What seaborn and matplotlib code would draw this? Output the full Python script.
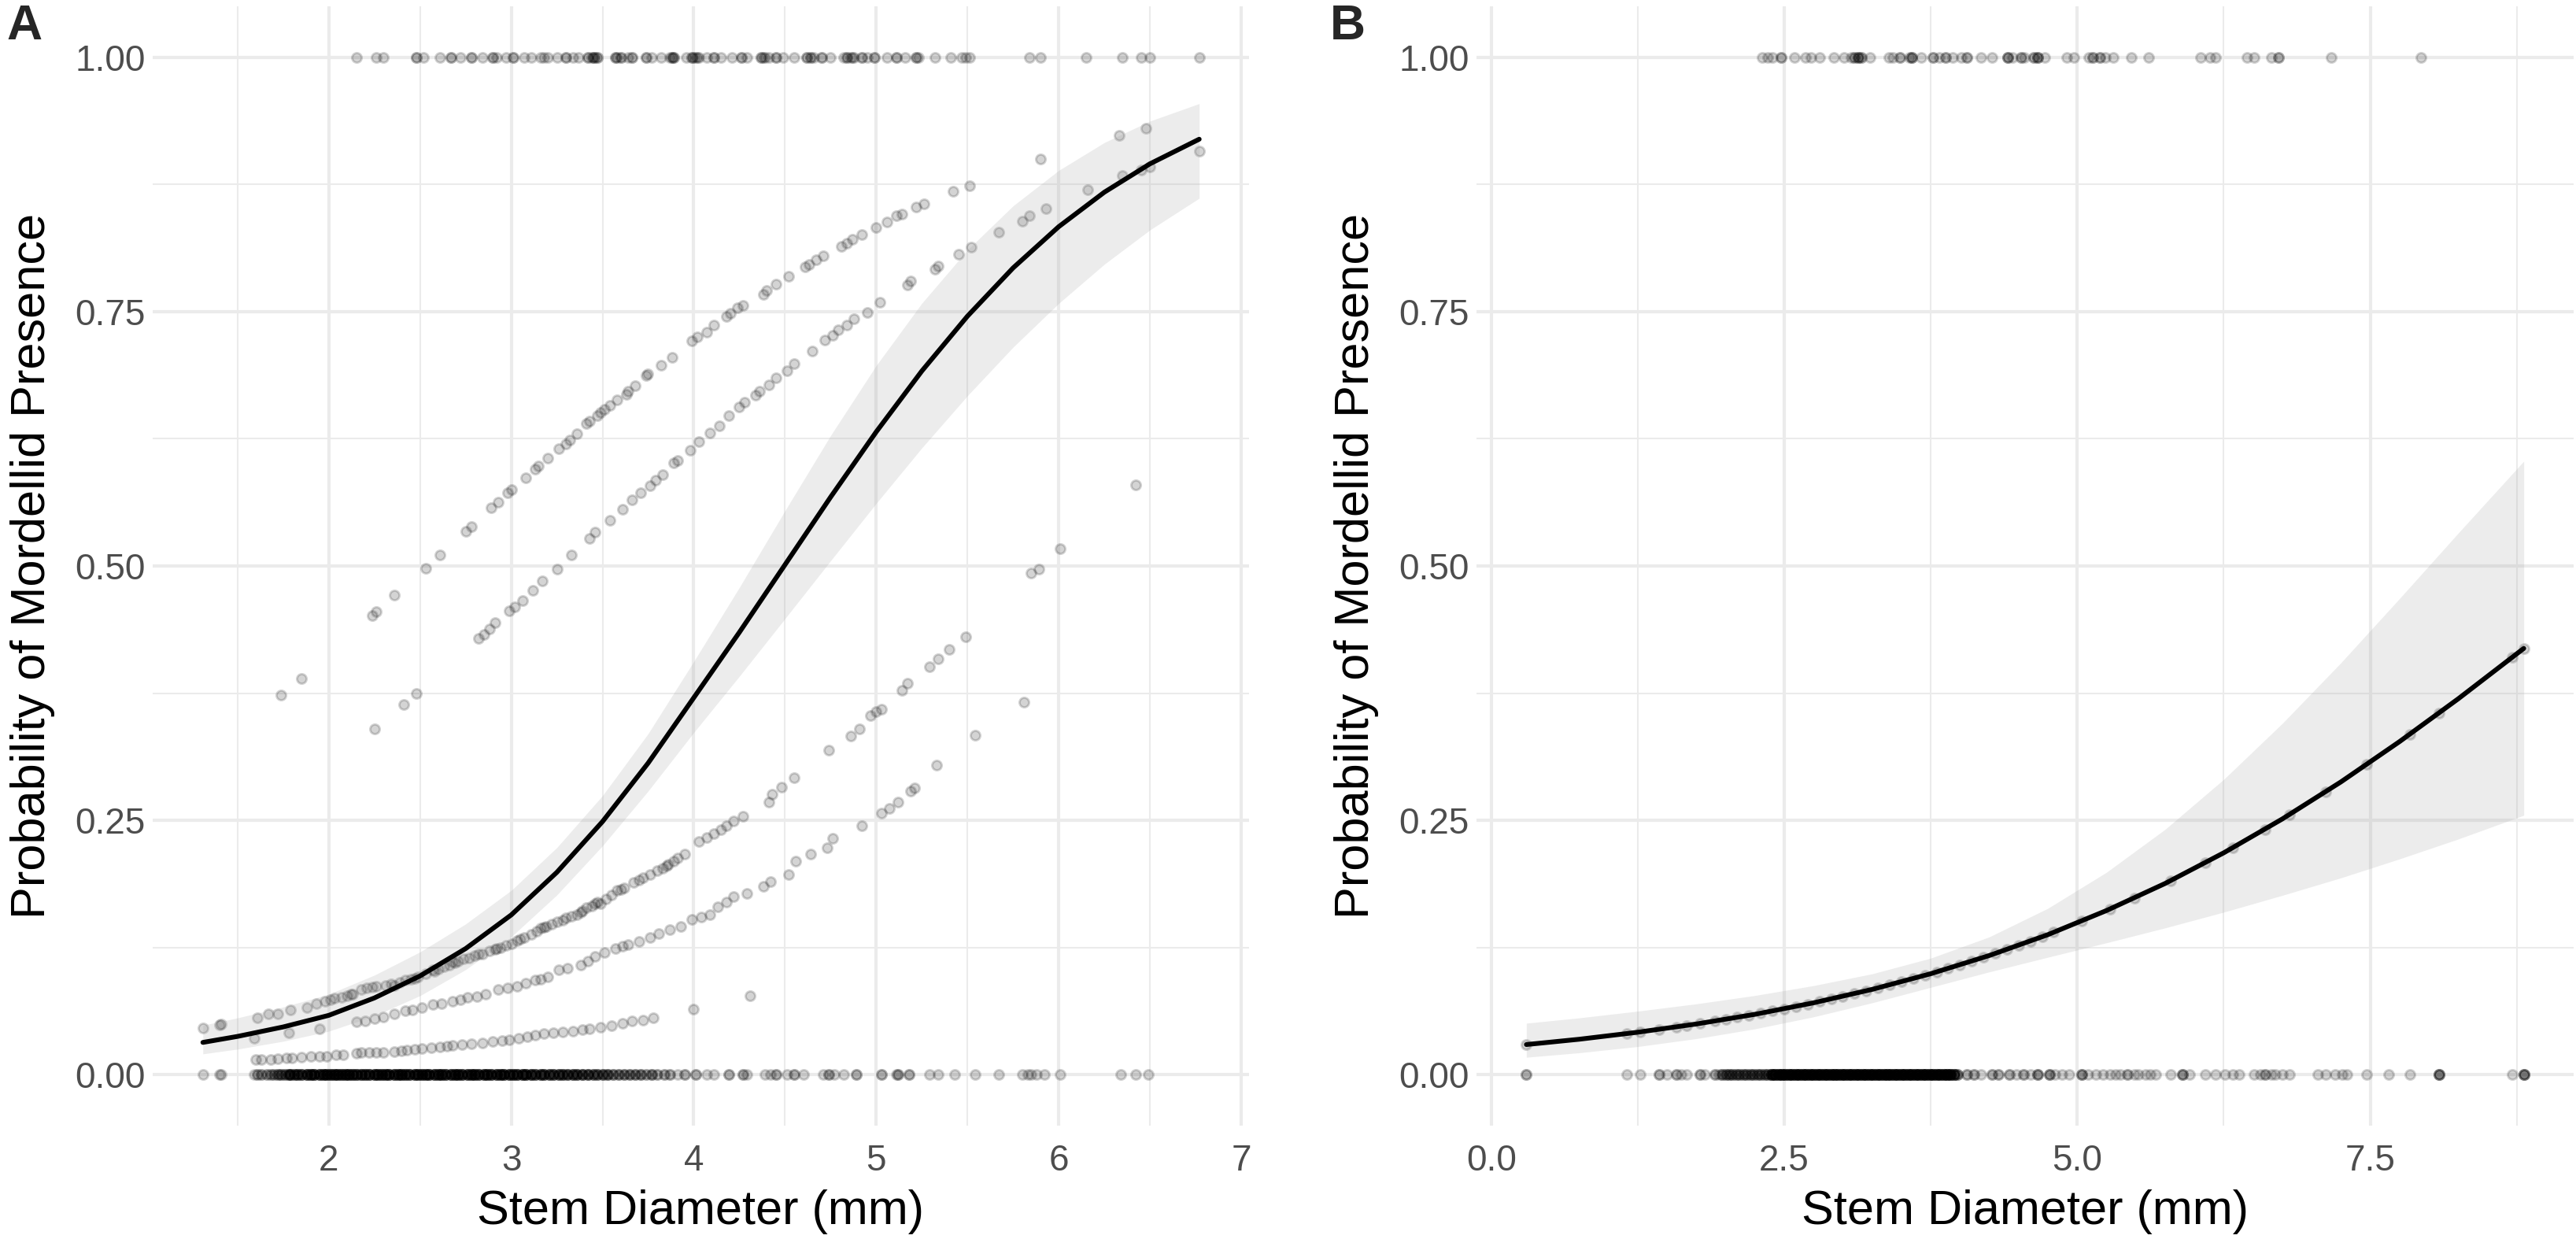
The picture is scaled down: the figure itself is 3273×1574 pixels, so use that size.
import numpy as np
import pandas as pd
import matplotlib
matplotlib.use("Agg")
import matplotlib.pyplot as plt
from matplotlib.ticker import FixedLocator
import seaborn as sns

# ---------------- Panel A data ----------------
A_curve_x = [1.31, 1.5, 1.75, 2.0, 2.25, 2.5, 2.75, 3.0, 3.25, 3.5, 3.75, 4.0, 4.25, 4.5,
             4.75, 5.0, 5.25, 5.5, 5.75, 6.0, 6.25, 6.5, 6.77]
A_curve_fit = [0.0318, 0.0377, 0.0470, 0.0584, 0.0755, 0.0971, 0.1240, 0.1571, 0.1990, 0.2488,
               0.3063, 0.3705, 0.4348, 0.5012, 0.5677, 0.6318, 0.6916, 0.7455, 0.7929, 0.8334,
               0.8673, 0.8952, 0.9194]
A_curve_lo = [0.0205, 0.0252, 0.0329, 0.0428, 0.0579, 0.0777, 0.1033, 0.1356, 0.1767, 0.2250,
              0.2788, 0.3363, 0.3916, 0.4482, 0.5051, 0.5615, 0.6160, 0.6673, 0.7150, 0.7580,
              0.7965, 0.8302, 0.8614]
A_curve_hi = [0.0487, 0.0559, 0.0666, 0.0792, 0.0979, 0.1207, 0.1482, 0.1812, 0.2233, 0.2743,
              0.3352, 0.4061, 0.4789, 0.5543, 0.6282, 0.6970, 0.7582, 0.8106, 0.8539, 0.8887,
              0.9161, 0.9372, 0.9544]

# fitted values per group (panel A)
A_u0_x = [5.90, 6.33, 6.48]
A_u0_y = [0.900, 0.923, 0.930]
A_u1_x = [1.74, 1.85, 2.24, 2.26, 2.36, 2.53, 2.61, 2.75, 2.78, 2.89, 2.93, 2.98, 3.00, 3.08, 3.13,
          3.15, 3.20, 3.26, 3.30, 3.32, 3.36, 3.41, 3.43, 3.47, 3.49, 3.51, 3.54, 3.58, 3.63, 3.64,
          3.68, 3.74, 3.75, 3.82, 3.88, 3.99, 4.02, 4.07, 4.11, 4.18, 4.20, 4.24, 4.27, 4.38, 4.40,
          4.45, 4.52, 4.61, 4.63, 4.67, 4.71, 4.81, 4.84, 4.87, 4.92, 5.00, 5.06, 5.11, 5.14, 5.22,
          5.26, 5.42, 5.51]
A_u1_y = [0.373, 0.389, 0.451, 0.455, 0.471, 0.498, 0.511, 0.534, 0.539, 0.557, 0.563, 0.572, 0.575,
          0.587, 0.595, 0.598, 0.606, 0.615, 0.620, 0.624, 0.630, 0.640, 0.642, 0.648, 0.651, 0.654,
          0.658, 0.663, 0.669, 0.672, 0.677, 0.687, 0.689, 0.697, 0.705, 0.721, 0.725, 0.730, 0.737,
          0.745, 0.748, 0.754, 0.756, 0.767, 0.771, 0.777, 0.785, 0.794, 0.796, 0.801, 0.805, 0.814,
          0.817, 0.821, 0.826, 0.833, 0.838, 0.844, 0.846, 0.853, 0.856, 0.868, 0.874]
A_u2_x = [2.25, 2.41, 2.48, 2.82, 2.85, 2.88, 2.91, 2.99, 3.02, 3.06, 3.12, 3.17, 3.25, 3.33, 3.43,
          3.46, 3.54, 3.61, 3.66, 3.71, 3.76, 3.79, 3.83, 3.89, 3.91, 3.98, 4.03, 4.09, 4.14, 4.19,
          4.25, 4.28, 4.34, 4.36, 4.41, 4.45, 4.51, 4.55, 4.65, 4.72, 4.76, 4.79, 4.84, 4.88, 4.95,
          5.02, 5.17, 5.19, 5.32, 5.34, 5.45, 5.52, 5.67, 5.80, 5.84, 5.93, 6.16, 6.35, 6.45, 6.50,
          6.77]
A_u2_y = [0.340, 0.364, 0.375, 0.429, 0.433, 0.438, 0.444, 0.456, 0.460, 0.466, 0.476, 0.485, 0.497,
          0.511, 0.527, 0.533, 0.545, 0.556, 0.565, 0.572, 0.579, 0.584, 0.590, 0.601, 0.604, 0.614,
          0.622, 0.631, 0.638, 0.648, 0.656, 0.661, 0.668, 0.672, 0.678, 0.685, 0.692, 0.699, 0.711,
          0.722, 0.727, 0.732, 0.737, 0.743, 0.749, 0.759, 0.776, 0.780, 0.792, 0.795, 0.806, 0.813,
          0.828, 0.839, 0.844, 0.851, 0.870, 0.884, 0.889, 0.892, 0.908]
A_l1_x = [1.31, 1.40, 1.41, 1.61, 1.67, 1.72, 1.79, 1.88, 1.93, 2.01, 2.07, 2.13, 2.18, 2.26, 2.36,
          2.42, 2.49, 2.57, 2.63, 2.68, 2.74, 2.80, 2.88, 2.94, 3.03, 3.11, 3.16, 3.22, 3.30, 3.36,
          3.41, 3.47, 3.49, 3.58, 3.72, 3.80, 3.86, 3.91, 3.95, 4.03, 4.11, 4.18, 4.27, 4.41, 4.43,
          4.48, 4.55, 4.74, 4.86, 4.91, 4.97, 5.00, 5.03, 5.14, 5.17, 5.29, 5.34, 5.40, 5.49, 5.85,
          5.89, 6.01, 6.42,
          2.03, 2.10, 2.21, 2.31, 2.39, 2.45, 2.53, 2.60, 2.66, 2.71, 2.77, 2.84, 2.91, 2.97, 3.00,
          3.07, 3.14, 3.19, 3.25, 3.33, 3.39, 3.44, 3.52, 3.55, 3.62, 3.67, 3.76, 3.83, 3.89, 4.07,
          4.15, 4.22,
          1.98, 2.12, 2.24, 2.34, 2.47, 2.58, 2.69, 2.82, 2.92, 3.05, 3.18, 3.28, 3.38, 3.46, 3.60,
          3.70, 3.85]
A_l1_y = [0.046, 0.049, 0.050, 0.056, 0.060, 0.060, 0.064, 0.066, 0.070, 0.074, 0.076, 0.079, 0.084,
          0.087, 0.088, 0.093, 0.096, 0.103, 0.106, 0.111, 0.114, 0.117, 0.122, 0.125, 0.132, 0.138,
          0.144, 0.148, 0.154, 0.157, 0.164, 0.170, 0.168, 0.181, 0.194, 0.201, 0.207, 0.213, 0.217,
          0.229, 0.237, 0.245, 0.254, 0.268, 0.276, 0.283, 0.292, 0.319, 0.333, 0.340, 0.353, 0.357,
          0.359, 0.378, 0.385, 0.401, 0.409, 0.418, 0.430, 0.493, 0.497, 0.517, 0.580,
          0.075, 0.078, 0.085, 0.088, 0.091, 0.094, 0.099, 0.104, 0.108, 0.112, 0.115, 0.119, 0.123,
          0.127, 0.129, 0.135, 0.141, 0.146, 0.150, 0.156, 0.161, 0.166, 0.173, 0.177, 0.184, 0.189,
          0.197, 0.203, 0.210, 0.233, 0.241, 0.249,
          0.072, 0.079, 0.086, 0.089, 0.095, 0.102, 0.110, 0.119, 0.124, 0.133, 0.145, 0.152, 0.160,
          0.168, 0.182, 0.191, 0.205]
A_l1b_x = [1.59, 1.78, 1.95, 2.15, 2.25, 2.36, 2.42, 2.51, 2.57, 2.68, 2.76, 2.86, 2.93, 3.03, 3.13,
           3.20, 3.26, 3.38, 3.46, 3.57, 3.64, 3.76, 3.87, 3.93, 3.99, 4.09, 4.13, 4.22, 4.29, 4.38,
           4.42, 4.52, 4.56, 4.64, 4.73, 4.76, 4.92, 5.03, 5.07, 5.12, 5.19, 5.21, 5.33, 5.54, 5.81,
           2.20, 2.30, 2.46, 2.62, 2.72, 2.81, 2.98, 3.08, 3.16, 3.31, 3.42, 3.51, 3.61, 3.70, 3.81,
           4.04, 4.18]
A_l1b_y = [0.036, 0.041, 0.045, 0.052, 0.055, 0.060, 0.063, 0.066, 0.069, 0.072, 0.076, 0.079, 0.084,
           0.087, 0.093, 0.096, 0.103, 0.108, 0.116, 0.124, 0.128, 0.135, 0.143, 0.146, 0.153, 0.157,
           0.165, 0.175, 0.178, 0.185, 0.190, 0.197, 0.210, 0.217, 0.223, 0.232, 0.245, 0.257, 0.262,
           0.268, 0.279, 0.282, 0.304, 0.334, 0.366,
           0.053, 0.057, 0.064, 0.070, 0.074, 0.077, 0.085, 0.090, 0.094, 0.105, 0.112, 0.120, 0.126,
           0.131, 0.139, 0.155, 0.170]
A_l2_x = [1.60, 1.72, 1.77, 1.80, 1.90, 1.99, 2.04, 2.15, 2.18, 2.30, 2.36, 2.43, 2.51, 2.61, 2.68,
          2.78, 2.90, 2.99, 3.09, 3.18, 3.28, 3.34, 3.43, 3.55, 3.61, 3.66, 3.72, 3.78, 4.00, 4.31,
          1.63, 1.68, 1.85, 1.95, 2.08, 2.22, 2.26, 2.40, 2.47, 2.56, 2.65, 2.73, 2.84, 2.95, 3.04,
          3.13, 3.23, 3.39, 3.49]
A_l2_y = [0.0147, 0.0154, 0.0163, 0.0163, 0.0179, 0.0179, 0.0195, 0.0211, 0.0218, 0.0218, 0.0227,
          0.0243, 0.0259, 0.0275, 0.0291, 0.0307, 0.0324, 0.0346, 0.0372, 0.0404, 0.0420, 0.0429,
          0.0452, 0.0484, 0.0506, 0.0525, 0.0538, 0.0557, 0.0644, 0.0778,
          0.0150, 0.0152, 0.0170, 0.0179, 0.0200, 0.0218, 0.0218, 0.0235, 0.0250, 0.0267, 0.0283,
          0.0300, 0.0315, 0.0335, 0.0360, 0.0390, 0.0410, 0.0440, 0.0470]

# observed outcomes (panel A)
A_one_x = [2.15, 2.26, 2.30, 2.48, 2.52, 2.61, 2.67, 2.72, 2.78, 2.84, 2.90, 2.92, 2.97, 3.01, 3.07,
           3.11, 3.16, 3.18, 3.25, 3.30, 3.34, 3.37, 3.42, 3.45, 3.47, 3.57, 3.60, 3.64, 3.66, 3.74,
           3.77, 3.82, 3.88, 3.89, 3.96, 3.99, 4.01, 4.03, 4.07, 4.11, 4.15, 4.21, 4.26, 4.29, 4.37,
           4.38, 4.41, 4.45, 4.49, 4.55, 4.62, 4.64, 4.70, 4.75, 4.82, 4.84, 4.87, 4.92, 4.95, 4.99,
           5.06, 5.11, 5.16, 5.22, 5.23, 5.32, 5.41, 5.47, 5.49, 5.51, 5.84, 5.90, 6.15, 6.35, 6.45,
           6.50, 6.77,
           2.48, 2.78, 3.20, 3.42, 3.44, 3.46, 3.47, 3.57, 3.58, 3.66, 3.87, 3.88, 3.99, 4.00, 4.02,
           4.37, 4.39, 4.62, 4.64, 4.66, 4.84, 4.86, 4.88, 5.22,
           2.67, 2.90, 3.01, 3.30, 3.45, 3.60, 3.74, 3.89, 4.11, 4.26, 4.45, 4.70, 4.92, 4.99, 5.11]
A_zero_sparse_x = [1.31, 1.40, 1.41, 3.91, 3.95, 4.01, 4.07, 4.11, 4.19, 4.27, 4.29, 4.39, 4.42, 4.45,
                   4.51, 4.55, 4.60, 4.71, 4.74, 4.77, 4.82, 4.89, 5.03, 5.11, 5.12, 5.18, 5.29, 5.34,
                   5.43, 5.54, 5.67, 5.80, 5.83, 5.85, 5.88, 5.92, 6.01, 6.34, 6.42, 6.49,
                   4.01, 4.27, 4.45, 4.55, 4.74, 4.89, 5.03, 5.12, 3.95, 4.19, 5.18]
A_zero_dense_x = [1.59, 1.61, 1.63, 1.66, 1.68, 1.70, 1.72, 1.74, 1.76, 1.78,
                  1.79, 1.81, 1.83, 1.85, 1.88, 1.90, 1.92, 1.95, 1.97, 1.99,
                  2.01, 2.03, 2.05, 2.07, 2.09, 2.11, 2.13, 2.15, 2.18, 2.20,
                  2.22, 2.25, 2.27, 2.29, 2.31, 2.33, 2.36, 2.38, 2.40, 2.42,
                  2.44, 2.47, 2.49, 2.51, 2.53, 2.55, 2.58, 2.60, 2.62, 2.64,
                  2.67, 2.69, 2.71, 2.73, 2.76, 2.78, 2.80, 2.82, 2.85, 2.87,
                  2.89, 2.92, 2.94, 2.96, 2.99, 3.01, 3.03, 3.06, 3.08, 3.11,
                  3.13, 3.16, 3.18, 3.21, 3.23, 3.26, 3.28, 3.31, 3.34, 3.36,
                  3.39, 3.42, 3.45, 3.47, 3.50, 3.53, 3.56, 3.59, 3.62, 3.65,
                  3.68, 3.71, 3.74, 3.77, 3.80, 3.84, 3.87]
A_zero_dense_n = [1, 2, 2, 2, 2, 2, 3, 3, 3, 4,
                  4, 4, 5, 5, 6, 6, 6, 6, 6, 6,
                  6, 6, 6, 6, 6, 6, 6, 6, 6, 6,
                  6, 6, 6, 6, 6, 6, 6, 6, 6, 6,
                  6, 6, 6, 6, 6, 6, 6, 6, 6, 6,
                  6, 6, 6, 6, 6, 6, 6, 6, 6, 6,
                  6, 6, 6, 6, 6, 6, 6, 6, 6, 6,
                  5, 5, 5, 5, 5, 5, 5, 5, 5, 5,
                  5, 5, 4, 4, 4, 4, 3, 3, 3, 3,
                  3, 3, 2, 3, 2, 2, 2]

# ---------------- Panel B data ----------------
B_curve_x = [0.30, 0.75, 1.25, 1.75, 2.25, 2.75, 3.25, 3.75, 4.25, 4.75, 5.25, 5.75, 6.25, 6.75,
             7.25, 7.75, 8.25, 8.81]
B_curve_fit = [0.0297, 0.0349, 0.0418, 0.0499, 0.0594, 0.0707, 0.0839, 0.0993, 0.1172, 0.1377,
               0.1614, 0.1880, 0.2181, 0.2514, 0.2878, 0.3274, 0.3694, 0.4190]
B_curve_lo = [0.0172, 0.0216, 0.0277, 0.0355, 0.0451, 0.0569, 0.0707, 0.0859, 0.1011, 0.1155,
              0.1297, 0.1443, 0.1598, 0.1763, 0.1935, 0.2121, 0.2316, 0.2550]
B_curve_hi = [0.0507, 0.0559, 0.0625, 0.0697, 0.0779, 0.0876, 0.0992, 0.1146, 0.1355, 0.1636,
              0.1990, 0.2412, 0.2903, 0.3453, 0.4049, 0.4680, 0.5322, 0.6030]
B_fit_x = [0.30, 1.16, 1.27, 1.43, 1.58, 1.67, 1.78, 1.91, 2.0, 2.2, 2.4, 2.6, 2.8, 3.0, 3.2, 3.4,
           3.6, 3.8, 4.0, 4.2, 4.4, 4.6, 4.8, 5.04, 5.28, 5.49, 5.8, 6.09, 6.33, 6.6, 6.81, 7.12,
           7.47, 7.84, 8.09, 8.71, 8.81,
           2.1, 2.3, 2.5, 2.7, 2.9, 3.1, 3.3, 3.5, 3.7, 3.9, 4.1, 4.3, 4.5, 4.7]
B_fit_y = [0.0297, 0.0405, 0.0420, 0.0445, 0.0469, 0.0485, 0.0504, 0.0527, 0.0544, 0.0584, 0.0626,
           0.0671, 0.0719, 0.0770, 0.0825, 0.0883, 0.0944, 0.1010, 0.1079, 0.1152, 0.1230, 0.1312,
           0.1400, 0.1511, 0.1629, 0.1738, 0.1909, 0.2081, 0.2232, 0.2410, 0.2556, 0.2781, 0.3049,
           0.3347, 0.3557, 0.4100, 0.4190,
           0.0564, 0.0605, 0.0648, 0.0694, 0.0744, 0.0797, 0.0853, 0.0913, 0.0977, 0.1044, 0.1116,
           0.1191, 0.1271, 0.1356]
B_one_x = [2.31, 2.36, 2.40, 2.47, 2.59, 2.68, 2.73, 2.80, 2.92, 3.01, 3.07, 3.10, 3.13, 3.16, 3.23,
           3.39, 3.43, 3.49, 3.57, 3.59, 3.67, 3.77, 3.82, 3.88, 3.94, 4.01, 4.06, 4.18, 4.27, 4.41,
           4.45, 4.52, 4.55, 4.63, 4.66, 4.72, 4.91, 4.97, 5.10, 5.13, 5.19, 5.24, 5.31, 5.46, 5.61,
           6.05, 6.13, 6.18, 6.45, 6.51, 6.66, 6.72, 7.17, 7.93,
           2.47, 3.10, 3.13, 3.16, 3.49, 3.59, 3.77, 3.88, 4.06, 4.41, 4.52, 4.63, 4.66, 5.13, 5.19,
           6.72, 3.13, 3.59, 4.41, 4.66]
B_zero_sparse_x = [0.30, 0.30, 1.16, 1.27, 1.43, 1.43, 1.50, 1.58, 1.58, 1.62, 1.67, 1.78, 1.78, 1.82,
                   1.91, 1.91, 1.94, 4.06, 4.12, 4.18, 4.27, 4.33, 4.42, 4.48, 4.54, 4.60, 4.66, 4.66,
                   4.76, 4.76, 4.81, 4.87, 4.93, 5.04, 5.04, 5.09, 5.16, 5.22, 5.28, 5.33, 5.37, 5.43,
                   5.43, 5.49, 5.52, 5.58, 5.62, 5.67, 5.80, 5.90, 5.90, 5.96, 6.09, 6.18, 6.26, 6.33,
                   6.38, 6.51, 6.56, 6.60, 6.60, 6.66, 6.69, 6.75, 6.81, 7.05, 7.12, 7.20, 7.26, 7.30,
                   7.47, 7.66, 7.84, 8.09, 8.09, 8.09, 8.71, 8.81, 8.81, 8.81,
                   4.06, 4.12, 4.27, 4.42, 4.54, 4.66, 4.33, 4.76, 5.04, 5.90, 8.09, 8.81]
B_zero_dense_x = [1.97, 2.00, 2.03, 2.06, 2.09, 2.12, 2.15, 2.18, 2.21, 2.24,
                  2.27, 2.30, 2.33, 2.36, 2.39, 2.42, 2.45, 2.48, 2.51, 2.54,
                  2.57, 2.60, 2.63, 2.66, 2.69, 2.72, 2.75, 2.78, 2.81, 2.84,
                  2.87, 2.90, 2.93, 2.96, 2.99, 3.02, 3.05, 3.08, 3.11, 3.14,
                  3.17, 3.20, 3.23, 3.26, 3.29, 3.32, 3.35, 3.38, 3.41, 3.44,
                  3.47, 3.50, 3.53, 3.56, 3.59, 3.62, 3.65, 3.68, 3.71, 3.74,
                  3.77, 3.80, 3.83, 3.86, 3.89, 3.92, 3.95, 3.98]
B_zero_dense_n = [3, 3, 3, 3, 3, 3, 3, 3, 3, 3,
                  3, 3, 3, 3, 7, 7, 7, 7, 7, 7,
                  7, 7, 7, 7, 7, 7, 7, 7, 7, 7,
                  7, 7, 7, 7, 7, 7, 7, 7, 7, 7,
                  7, 7, 7, 7, 7, 7, 7, 7, 7, 7,
                  7, 7, 7, 7, 7, 7, 7, 7, 7, 7,
                  7, 7, 7, 7, 7, 7, 6, 3]

Y_LABEL = "Probability of Mordellid Presence"
X_LABEL = "Stem Diameter (mm)"

# ---------------- styling ----------------
sns.set_theme(style="white")
plt.rcParams['font.family'] = ['Liberation Sans', 'DejaVu Sans']

W, H = 3273, 1574
DPI = 300
fig = plt.figure(figsize=(W / DPI, H / DPI), dpi=DPI)
fig.patch.set_facecolor("white")

def px_axes(left, right, top, bottom):
    return fig.add_axes([left / W, 1 - bottom / H, (right - left) / W, (bottom - top) / H])

axA = px_axes(194, 1587, 8, 1430)
axB = px_axes(1876, 3270, 8, 1430)

PT_KW = dict(color="black", alpha=0.17, s=8.5, linewidth=0.7, edgecolor="black", legend=False)
GRID = "#EBEBEB"
TICK_COL = "#4D4D4D"


def scatter(ax, xs, ys, z=2):
    df = pd.DataFrame({"x": xs, "y": ys})
    sns.scatterplot(data=df, x="x", y="y", ax=ax, zorder=z, **PT_KW)


def style_axes(ax, xlim, xmaj, xmin, xlabels):
    ax.set_xlim(*xlim)
    ax.set_ylim(-0.05, 1.05)
    ax.xaxis.set_major_locator(FixedLocator(xmaj))
    ax.xaxis.set_minor_locator(FixedLocator(xmin))
    ax.set_xticklabels(xlabels)
    ax.yaxis.set_major_locator(FixedLocator([0, 0.25, 0.5, 0.75, 1.0]))
    ax.yaxis.set_minor_locator(FixedLocator([0.125, 0.375, 0.625, 0.875]))
    ax.set_yticklabels(["0.00", "0.25", "0.50", "0.75", "1.00"])
    ax.grid(which="major", color=GRID, linewidth=1.0, zorder=0)
    ax.grid(which="minor", color=GRID, linewidth=0.5, zorder=0)
    ax.set_axisbelow(True)
    for sp in ax.spines.values():
        sp.set_visible(False)
    ax.tick_params(axis="both", which="both", length=0, labelsize=11, labelcolor=TICK_COL)
    ax.tick_params(axis="x", pad=5.5)
    ax.tick_params(axis="y", pad=2.2)
    ax.set_xlabel(X_LABEL, fontsize=14.7, color="black", labelpad=3.5)
    ax.set_ylabel(Y_LABEL, fontsize=14.7, color="black", labelpad=6.0)
    ax.set_facecolor("white")


# ---------- Panel A ----------
zero_A = list(A_zero_sparse_x) + list(np.repeat(A_zero_dense_x, A_zero_dense_n))
scatter(axA, zero_A, [0.0] * len(zero_A))
scatter(axA, A_one_x, [1.0] * len(A_one_x))
for gx, gy in [(A_u0_x, A_u0_y), (A_u1_x, A_u1_y), (A_u2_x, A_u2_y),
               (A_l1_x, A_l1_y), (A_l1b_x, A_l1b_y), (A_l2_x, A_l2_y)]:
    scatter(axA, gx, gy)
axA.fill_between(A_curve_x, A_curve_lo, A_curve_hi, color="#999999", alpha=0.18, linewidth=0, zorder=3)
sns.lineplot(x=A_curve_x, y=A_curve_fit, ax=axA, color="black", linewidth=1.45,
             estimator=None, sort=False, zorder=4)
style_axes(axA, (1.035, 7.043), [2, 3, 4, 5, 6, 7], [1.5, 2.5, 3.5, 4.5, 5.5, 6.5],
           ["2", "3", "4", "5", "6", "7"])

# ---------- Panel B ----------
zero_B = list(B_zero_sparse_x) + list(np.repeat(B_zero_dense_x, B_zero_dense_n))
scatter(axB, zero_B, [0.0] * len(zero_B))
scatter(axB, B_one_x, [1.0] * len(B_one_x))
scatter(axB, B_fit_x, B_fit_y)
axB.fill_between(B_curve_x, B_curve_lo, B_curve_hi, color="#999999", alpha=0.18, linewidth=0, zorder=3)
sns.lineplot(x=B_curve_x, y=B_curve_fit, ax=axB, color="black", linewidth=1.45,
             estimator=None, sort=False, zorder=4)
style_axes(axB, (-0.1255, 9.2355), [0, 2.5, 5.0, 7.5], [1.25, 3.75, 6.25, 8.75],
           ["0.0", "2.5", "5.0", "7.5"])

# panel tags
fig.text(8 / W, 1 - 4 / H, "A", fontsize=15, fontweight="bold", ha="left", va="top")
fig.text(1690 / W, 1 - 4 / H, "B", fontsize=15, fontweight="bold", ha="left", va="top")

fig.savefig("out.png", dpi=DPI, facecolor="white")
